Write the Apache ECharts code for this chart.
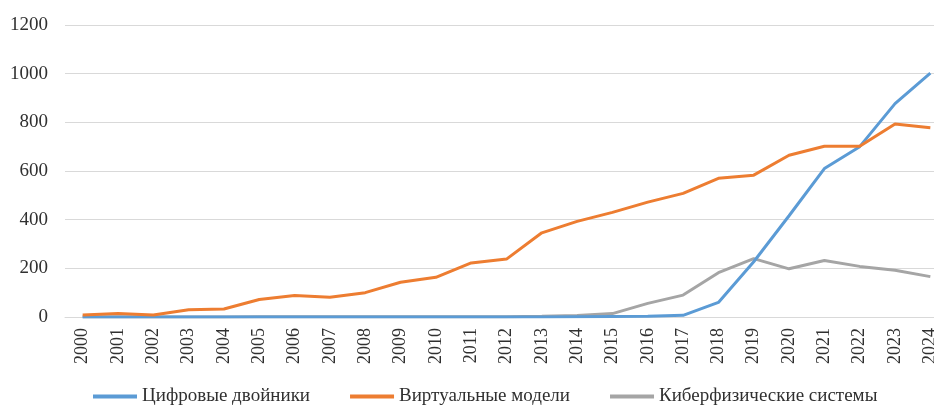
<!DOCTYPE html>
<html><head><meta charset="utf-8">
<script src="https://cdn.jsdelivr.net/npm/echarts@6/dist/echarts.min.js"></script>
<style>html,body{margin:0;padding:0;background:#fff}#c{width:934px;height:408px}</style>
</head><body><div id="c"></div>
<script>
const years = ['2000','2001','2002','2003','2004','2005','2006','2007','2008','2009','2010','2011','2012','2013','2014','2015','2016','2017','2018','2019','2020','2021','2022','2023','2024'];
const digitalTwins = [0,0,0,0,0,0,0,0,0,0,0,0,0,0,1,2,3,7,60,227,416,610,700,877,1002];
const virtualModels = [8,14,8,30,33,72,88,81,100,143,163,222,238,346,393,430,472,508,570,583,665,702,702,793,778];
const cyberPhysical = [0,0,0,0,0,1,1,1,1,1,1,1,1,3,6,14,56,90,182,240,198,232,208,192,166];
const yTicks = [0,200,400,600,800,1000,1200];
const names = ['Цифровые двойники','Виртуальные модели','Киберфизические системы'];
const colors = ['#5b9bd5','#ed7d31','#a5a5a5'];
const font = 'Liberation Serif';
const chart = echarts.init(document.getElementById('c'));
chart.setOption({
  animation:false,
  textStyle:{fontFamily:font},
  grid:{left:65,width:883,top:25,bottom:91,outerBoundsMode:'none',containLabel:false},
  legend:{bottom:-3,left:88,itemWidth:44,itemHeight:4,itemGap:40,
    icon:'rect',
    textStyle:{fontFamily:font,fontSize:19,color:'#303030'},
    data:names},
  xAxis:{type:'category',data:years,boundaryGap:true,
    axisLine:{lineStyle:{color:'#d9d9d9',width:1}},axisTick:{show:false},
    axisLabel:{rotate:90,fontFamily:font,fontSize:18,color:'#303030',interval:0,margin:11}},
  yAxis:{type:'value',min:yTicks[0],max:yTicks[yTicks.length-1],interval:200,
    axisLine:{show:false},axisTick:{show:false},
    splitLine:{lineStyle:{color:'#d9d9d9',width:1}},
    axisLabel:{fontFamily:font,fontSize:19,color:'#303030',margin:17,formatter:v=>String(v)}},
  series:[
    {name:names[0],type:'line',data:digitalTwins,symbol:'none',lineStyle:{color:colors[0],width:3},itemStyle:{color:colors[0]},z:3},
    {name:names[1],type:'line',data:virtualModels,symbol:'none',lineStyle:{color:colors[1],width:3},itemStyle:{color:colors[1]},z:4},
    {name:names[2],type:'line',data:cyberPhysical,symbol:'none',lineStyle:{color:colors[2],width:3},itemStyle:{color:colors[2]},z:2}
  ]
});
</script></body></html>
